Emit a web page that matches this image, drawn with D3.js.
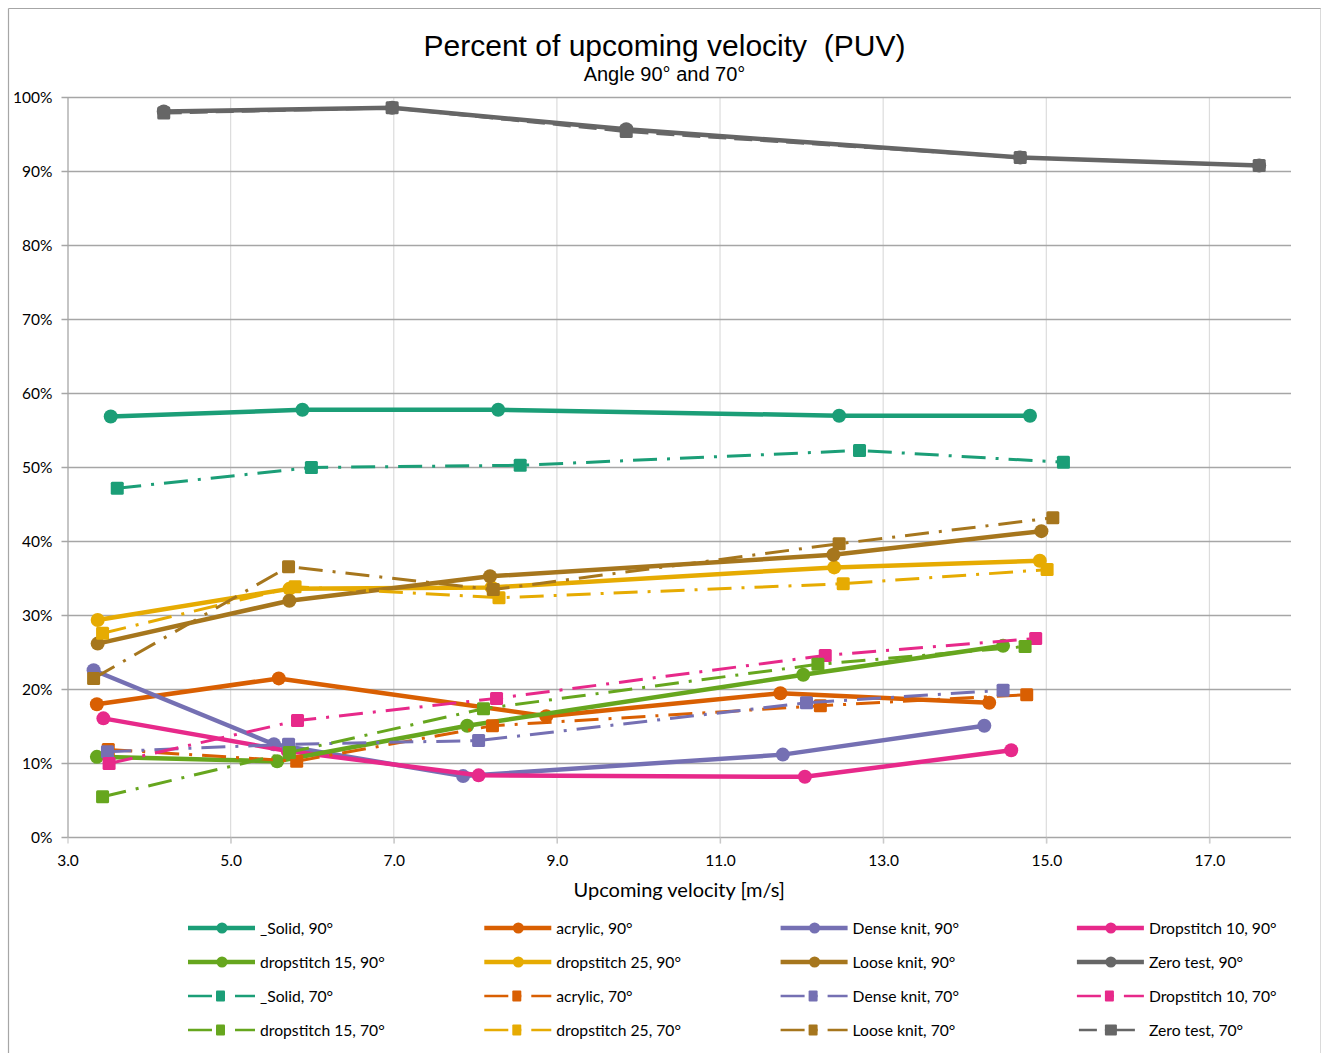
<!DOCTYPE html>
<html>
<head>
<meta charset="utf-8">
<script src="https://cdn.jsdelivr.net/npm/d3@7"></script>
<style>
  body { margin: 0; background: #fff; }
  .ticklab { font-family: Lato, "Open Sans", sans-serif; font-size: 15.5px; fill: #000; }
  .legtext { font-family: Lato, "Open Sans", sans-serif; font-size: 15.7px; fill: #000; }
</style>
</head>
<body>
<div id="chart"></div>
<script>
// series names, same order as in the legend
let materials = ['_Solid', 'acrylic', 'Dense knit', 'Dropstitch 10', 'dropstitch 15', 'dropstitch 25', 'Loose knit', 'Zero test'];
let angles = ['90°', '70°'];

// upcoming velocity [m/s], angle 90
let vel90 = [
    [3.53, 5.88, 8.28, 12.46, 14.80],
    [3.36, 5.59, 8.87, 11.74, 14.30],
    [3.32, 5.53, 7.85, 11.77, 14.24],
    [3.44, 5.70, 8.04, 12.04, 14.57],
    [3.36, 5.57, 7.90, 12.02, 14.47],
    [3.37, 5.72, 8.20, 12.40, 14.92],
    [3.37, 5.72, 8.18, 12.39, 14.94],
    [4.18, 6.98, 9.85, 14.68, 17.61]
];
// PUV [%], angle 90
let puv90 = [
    [56.9, 57.8, 57.8, 57.0, 57.0],
    [18.0, 21.5, 16.4, 19.5, 18.2],
    [22.6, 12.6, 8.3, 11.2, 15.1],
    [16.1, 11.7, 8.4, 8.2, 11.8],
    [10.9, 10.3, 15.1, 22.0, 25.9],
    [29.4, 33.6, 33.8, 36.5, 37.4],
    [26.2, 32.0, 35.3, 38.2, 41.4],
    [98.1, 98.6, 95.7, 91.9, 90.8]
];
// upcoming velocity [m/s], angle 70
let vel70 = [
    [3.61, 5.99, 8.55, 12.71, 15.21],
    [3.50, 5.81, 8.21, 12.23, 14.76],
    [3.49, 5.71, 8.04, 12.06, 14.47],
    [3.51, 5.82, 8.26, 12.29, 14.87],
    [3.43, 5.72, 8.10, 12.20, 14.74],
    [3.43, 5.79, 8.29, 12.51, 15.01],
    [3.32, 5.71, 8.22, 12.46, 15.08],
    [4.18, 6.98, 9.85, 14.68, 17.61]
];
// PUV [%], angle 70
let puv70 = [
    [47.2, 50.0, 50.3, 52.3, 50.7],
    [11.9, 10.3, 15.1, 17.8, 19.3],
    [11.6, 12.6, 13.1, 18.2, 19.9],
    [10.0, 15.8, 18.8, 24.6, 26.9],
    [5.5, 11.5, 17.4, 23.4, 25.8],
    [27.6, 33.9, 32.4, 34.3, 36.2],
    [21.5, 36.6, 33.5, 39.7, 43.2],
    [97.9, 98.6, 95.4, 91.9, 90.8]
];

let xTicks = [3, 5, 7, 9, 11, 13, 15, 17];
let yTicks = [0, 10, 20, 30, 40, 50, 60, 70, 80, 90, 100];

let colors = ['#1b9e77', '#d95f02', '#7570b3', '#e7298a', '#66a61e', '#e6ab02', '#a6761d', '#666666'];

let w = 1321, h = 1053;
let plotLeft = 67.5, plotRight = 1291, plotTop = 97.5, plotBottom = 837.5;

let xScale = d3.scaleLinear().domain([3, 18]).range([plotLeft, plotRight]);
let yScale = d3.scaleLinear().domain([0, 100]).range([plotBottom, plotTop]);

let svg = d3.select('#chart')
    .append('svg')
    .attr('width', w)
    .attr('height', h);

// outer frame
svg.append('line').attr('x1', 8.5).attr('x2', 1321).attr('y1', 8.5).attr('y2', 8.5)
    .attr('stroke', '#a6a6a6').attr('stroke-width', 1.2);
svg.append('line').attr('x1', 8.5).attr('x2', 8.5).attr('y1', 8.5).attr('y2', h)
    .attr('stroke', '#a6a6a6').attr('stroke-width', 1.2);
svg.append('line').attr('x1', 1320.5).attr('x2', 1320.5).attr('y1', 8.5).attr('y2', h)
    .attr('stroke', '#dadada').attr('stroke-width', 1);

// vertical grid
svg.selectAll('vgrid')
    .data(xTicks.slice(1))
    .enter()
    .append('line')
    .attr('x1', d => xScale(d)).attr('x2', d => xScale(d))
    .attr('y1', plotTop).attr('y2', plotBottom + 6)
    .attr('stroke', '#dcdcdc').attr('stroke-width', 1.2);

// horizontal grid
svg.selectAll('hgrid')
    .data(yTicks)
    .enter()
    .append('line')
    .attr('x1', plotLeft - 6).attr('x2', plotRight)
    .attr('y1', d => yScale(d)).attr('y2', d => yScale(d))
    .attr('stroke', '#a6a6a6').attr('stroke-width', 1.3);

// axes
let yAxis = d3.axisLeft(yScale).tickValues(yTicks).tickSize(0).tickPadding(15)
    .tickFormat(d => d + '%');
let gy = svg.append('g').attr('transform', 'translate(' + plotLeft + ',0)').call(yAxis);
gy.select('.domain').attr('stroke', '#a6a6a6').attr('stroke-width', 1.3);
gy.selectAll('text').attr('class', 'ticklab').attr('dy', '0.35em');

let xAxis = d3.axisBottom(xScale).tickValues(xTicks).tickSize(6).tickPadding(11)
    .tickFormat(d3.format('.1f'));
let gx = svg.append('g').attr('transform', 'translate(0,' + plotBottom + ')').call(xAxis);
gx.select('.domain').remove();
gx.selectAll('line').attr('stroke', '#c8c8c8').attr('stroke-width', 1.2);
gx.selectAll('text').attr('class', 'ticklab');

// titles
svg.append('text')
    .attr('x', 664.5).attr('y', 56)
    .attr('text-anchor', 'middle')
    .style('font-family', '"Liberation Sans", Arial, sans-serif')
    .style('font-size', '30px')
    .style('white-space', 'pre')
    .text('Percent of upcoming velocity  (PUV)');
svg.append('text')
    .attr('x', 664.5).attr('y', 81)
    .attr('text-anchor', 'middle')
    .style('font-family', '"Liberation Sans", Arial, sans-serif')
    .style('font-size', '20px')
    .text('Angle 90° and 70°');
svg.append('text')
    .attr('x', (plotLeft + plotRight) / 2).attr('y', 897)
    .attr('text-anchor', 'middle')
    .style('font-family', 'Lato, "Open Sans", sans-serif')
    .style('font-size', '20px')
    .text('Upcoming velocity [m/s]');

let dash70 = '24,10,3,10';
let dashZero = '18,8';

let line = d3.line().x(d => xScale(d.x)).y(d => yScale(d.y));

function seriesPoints(vel, puv) {
    return vel.map((v, i) => ({'x': v, 'y': puv[i]}));
}

function drawSeries(i, angle) {
    let pts = angle == 0 ? seriesPoints(vel90[i], puv90[i]) : seriesPoints(vel70[i], puv70[i]);
    let g = svg.append('g');
    let path = g.append('path')
        .attr('d', line(pts))
        .attr('fill', 'none')
        .attr('stroke', colors[i])
        .attr('stroke-linejoin', 'round');
    if (angle == 0) {
        path.attr('stroke-width', 4.5);
        g.selectAll('circle')
            .data(pts)
            .enter()
            .append('circle')
            .attr('cx', d => xScale(d.x))
            .attr('cy', d => yScale(d.y))
            .attr('r', 7)
            .attr('fill', colors[i]);
    } else {
        path.attr('stroke-width', 3)
            .attr('stroke-dasharray', i == 7 ? dashZero : dash70);
        g.selectAll('rect')
            .data(pts)
            .enter()
            .append('rect')
            .attr('x', d => xScale(d.x) - 6.5)
            .attr('y', d => yScale(d.y) - 6.5)
            .attr('width', 13).attr('height', 13)
            .attr('rx', 1.5)
            .attr('fill', colors[i]);
    }
}

for (let a = 0; a < 2; a++) {
    for (let i = 0; i < materials.length; i++) {
        drawSeries(i, a);
    }
}

// legend, 4 columns x 4 rows
let legItems = [];
angles.forEach(function(ang, a) {
    materials.forEach(function(m, i) {
        legItems.push({'label': m + ', ' + ang, 'i': i, 'a': a});
    });
});

let leg = svg.selectAll('legitems')
    .data(legItems)
    .enter()
    .append('g')
    .attr('transform', function(d, k) {
        let col = k % 4;
        let row = Math.floor(k / 4);
        return 'translate(' + (188 + col * 296.3) + ',' + (928 + row * 34) + ')';
    });

leg.append('line')
    .attr('x1', d => (d.a == 1 && d.i == 7) ? 2 : 0)
    .attr('x2', d => (d.a == 1 && d.i == 7) ? 58 : 67)
    .attr('y1', 0).attr('y2', 0)
    .attr('stroke', d => colors[d.i])
    .attr('stroke-width', d => d.a == 0 ? 4.3 : 2.6)
    .attr('stroke-dasharray', d => d.a == 0 ? null : (d.i == 7 ? '18,8,40' : dash70));

leg.filter(d => d.a == 0)
    .append('circle')
    .attr('cx', 34).attr('cy', 0).attr('r', 5.5)
    .attr('fill', d => colors[d.i]);

leg.filter(d => d.a == 1)
    .append('rect')
    .attr('x', d => d.i == 7 ? 28 : 28).attr('y', -5.5)
    .attr('width', d => d.i == 7 ? 12 : 9).attr('height', 11)
    .attr('rx', 1)
    .attr('fill', d => colors[d.i]);

leg.append('text')
    .attr('class', 'legtext')
    .attr('x', 72)
    .attr('y', 0)
    .attr('dy', '0.35em')
    .text(d => d.label);
</script>
</body>
</html>
